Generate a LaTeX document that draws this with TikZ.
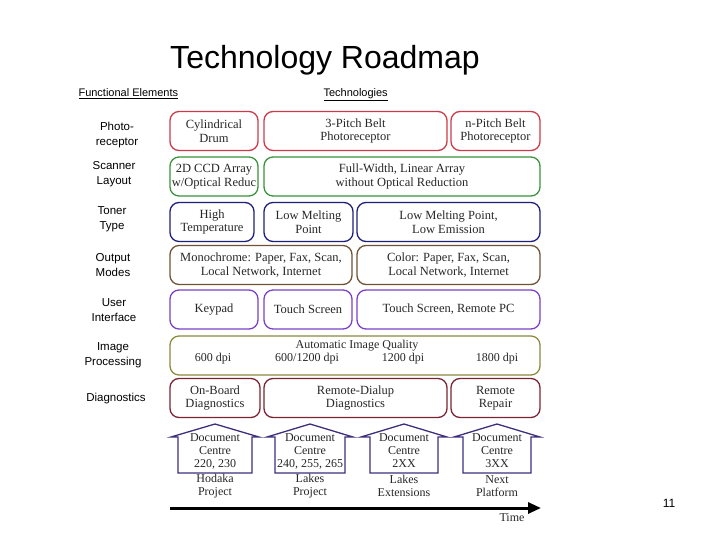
\documentclass[tikz,border=0pt]{standalone}
\usepackage{fontspec}
\setmainfont{Liberation Sans}
\newfontfamily\serifx{Liberation Serif}
\usetikzlibrary{arrows.meta}
\definecolor{cred}{HTML}{CC3A4A}
\definecolor{cgreen}{HTML}{3A923A}
\definecolor{cnavy}{HTML}{1E1E7A}
\definecolor{cbrown}{HTML}{6E5234}
\definecolor{cpurple}{HTML}{7A40C8}
\definecolor{colive}{HTML}{8C8A3C}
\definecolor{cmaroon}{HTML}{7A2434}
\definecolor{chouse}{HTML}{3E2E7C}
\tikzset{
  tbox/.style={draw=#1, line width=1.3pt, rounded corners=9pt, inner sep=0pt,
    minimum height=39pt, align=center, font=\serifx\fontsize{12.5}{13.5}\selectfont, text=black!85},
  lbl/.style={align=center, font=\fontsize{11.5}{14.5}\selectfont},
  hdr/.style={font=\fontsize{11}{13}\selectfont, anchor=base west},
  htxt/.style={align=center, font=\serifx\fontsize{12}{13}\selectfont, text=black!85},
  house/.style={draw=chouse, line width=1.3pt, line join=miter},
}
\begin{document}
\begin{tikzpicture}[x=1pt,y=-1pt]
\useasboundingbox (0,0) rectangle (720,540);
\node (title) at (325,60) {\fontsize{32}{36}\selectfont Technology Roadmap};
\node[hdr] (fe) at (75,97) {\underline{Functional Elements}};
\node[hdr] (te) at (320,97) {\underline{Technologies}};
% left labels
\node[lbl] (l1) at (117,135) {Photo-\\receptor};
\node[lbl] (l2) at (114,174) {Scanner\\Layout};
\node[lbl] (l3) at (112,219) {Toner\\Type};
\node[lbl] (l4) at (113,265) {Output\\Modes};
\node[lbl] (l5) at (114,310) {User\\Interface};
\node[lbl] (l6) at (113,355) {Image\\Processing};
\node[lbl] (l7) at (116,399) {Diagnostics};
% row 1
\node[tbox=cred, minimum width=88pt] (a1) at (214,131) {Cylindrical\\Drum};
\node[tbox=cred, minimum width=183pt] (a2) at (355.5,131) {3-Pitch Belt\\Photoreceptor};
\node[tbox=cred, minimum width=89pt] (a3) at (495.5,131) {n-Pitch Belt\\Photoreceptor};
% row 2
\node[tbox=cgreen, minimum width=88pt] (b1) at (214,176.5) {2D CCD Array\\w/Optical Reduc};
\node[tbox=cgreen, minimum width=276pt] (b2) at (402,176.5) {Full-Width, Linear Array\\without Optical Reduction};
% row 3
\node[tbox=cnavy, minimum width=84pt] (c1) at (212,222) {High\\Temperature};
\node[tbox=cnavy, minimum width=89pt] (c2) at (308.5,222) {Low Melting\\Point};
\node[tbox=cnavy, minimum width=183pt] (c3) at (448.5,222) {Low Melting Point,\\Low Emission};
% row 4
\node[tbox=cbrown, minimum width=182pt] (d1) at (261,265) {Monochrome: Paper, Fax, Scan,\\Local Network, Internet};
\node[tbox=cbrown, minimum width=183pt] (d2) at (448.5,265) {Color: Paper, Fax, Scan,\\Local Network, Internet};
% row 5
\node[tbox=cpurple, minimum width=88pt] (e1) at (214,309.5) {Keypad};
\node[tbox=cpurple, minimum width=88pt] (e2) at (308,309.5) {Touch Screen};
\node[tbox=cpurple, minimum width=183pt] (e3) at (448.5,309.5) {Touch Screen, Remote PC};
% row 6
\node[tbox=colive, minimum width=370pt] (f1) at (355,355.5) {};
\node[htxt] (f0) at (357,346) {Automatic Image Quality};
\node[htxt] (f2) at (213,359) {600 dpi};
\node[htxt] (f3) at (307,359) {600/1200 dpi};
\node[htxt] (f4) at (403,359) {1200 dpi};
\node[htxt] (f5) at (497,359) {1800 dpi};
% row 7
\node[tbox=cmaroon, minimum width=90pt] (g1) at (215,398) {On-Board\\Diagnostics};
\node[tbox=cmaroon, minimum width=183pt] (g2) at (355.5,398) {Remote-Dialup\\Diagnostics};
\node[tbox=cmaroon, minimum width=89pt] (g3) at (495.5,398) {Remote\\Repair};
% houses
\foreach \cx/\w/\e/\n/\num/\la/\lb in {215/37/44/h1/{220, 230}/Hodaka/Project,
  310/35/43/h2/{240, 255, 265}/Lakes/Project,
  404/34/43/h3/2XX/Lakes/Extensions,
  497/34/43/h4/3XX/Next/Platform}{
  \draw[house] (\cx-\w,437) -- (\cx-\e,437) -- (\cx,424) -- (\cx+\e,437) -- (\cx+\w,437)
     -- (\cx+\w,473) -- (\cx-\w,473) -- cycle;
  \node[htxt] (\n) at (\cx,451) {Document\\Centre\\\num};
  \node[htxt] (\n l) at (\cx,486) {\la\\\lb};
}
% timeline
\coordinate (t0) at (170,508);
\coordinate (t1) at (541,508);
\draw[line width=3pt, -{Triangle[length=13pt,width=11pt]}] (t0) -- (t1);
\node[htxt] (time) at (512,518) {Time};
\node (pg) at (669,503) {\fontsize{12}{14}\selectfont 11};
\end{tikzpicture}
\end{document}
